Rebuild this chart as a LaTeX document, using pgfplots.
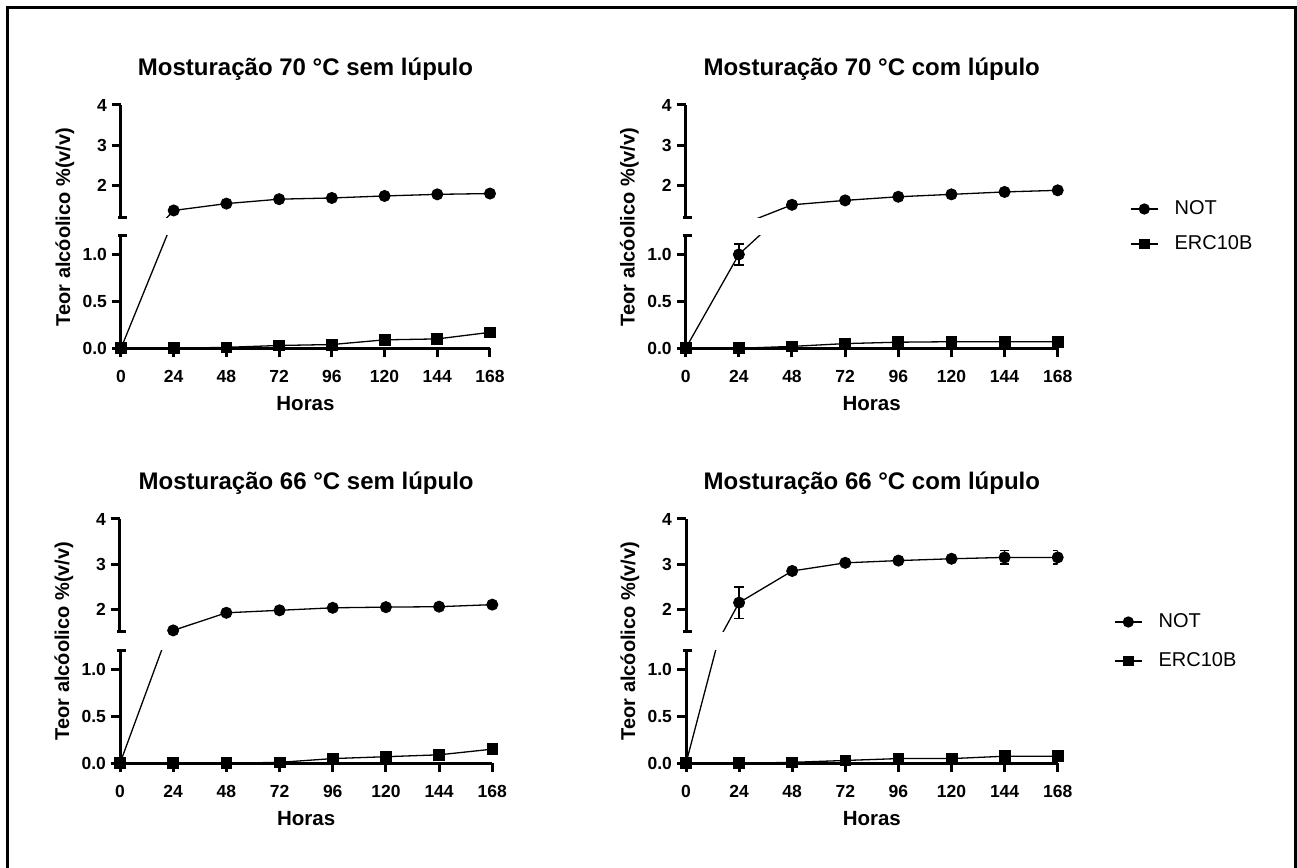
\documentclass[border=0pt]{standalone}
\usepackage{pgfplots}
\pgfplotsset{compat=1.18}
\usepackage{pgfplotstable}
\usepackage{fontspec}
\setmainfont{Liberation Sans}

\pgfplotstableread{
t not noterr erc
0 0 0 0
24 1.38 0 0
48 1.55 0 0.01
72 1.66 0 0.03
96 1.69 0 0.04
120 1.74 0 0.09
144 1.78 0 0.10
168 1.80 0 0.17
}\tA
\pgfplotstableread{
t not noterr erc
0 0 0 0
24 1.00 0.11 0
48 1.52 0 0.02
72 1.63 0 0.05
96 1.72 0 0.065
120 1.78 0 0.07
144 1.84 0 0.07
168 1.88 0 0.07
}\tB
\pgfplotstableread{
t not noterr erc
0 0 0 0
24 1.535 0 0
48 1.925 0 0
72 1.98 0 0.01
96 2.035 0 0.05
120 2.05 0 0.07
144 2.06 0 0.09
168 2.105 0 0.15
}\tC
\pgfplotstableread{
t not noterr erc
0 0 0 0
24 2.15 0.35 0
48 2.85 0 0.01
72 3.03 0 0.03
96 3.08 0 0.05
120 3.12 0 0.05
144 3.15 0.15 0.075
168 3.15 0.15 0.075
}\tD

\pgfplotsset{
  noarrows/.style={
    axis line style={line width=1.5pt, -},
    x axis line style={-}, y axis line style={-},
    every outer x axis line/.append style={-}, every outer y axis line/.append style={-},
    every inner x axis line/.append style={-}, every inner y axis line/.append style={-},
  },
  panel/.style={
    scale only axis, xmin=0, xmax=168,
    every tick/.style={line width=1.5pt, black},
    major tick length=4.5pt,
    tick align=outside,
    tick label style={font=\fontsize{8.75}{10}\selectfont\bfseries},
    yticklabel style={xshift=1pt},
    xticklabel style={yshift=-3pt},
    /pgf/number format/assume math mode=true,
  },
  lowseg/.style={panel, axis x line=bottom, axis y line=left, noarrows, tick align=outside,
    ymin=0, ymax=1.2, ytick={0,0.5,1}, yticklabels={0.0,0.5,1.0},
    xtick={0,24,48,72,96,120,144,168}, xticklabels={0,24,48,72,96,120,144,168},
    xlabel={Horas},
    xlabel style={font=\fontsize{10.25}{12}\selectfont\bfseries, at={(axis description cs:0.5,0)}, anchor=base, yshift=-31pt},
  },
  highseg/.style={panel, axis x line=none, axis y line=left, noarrows, tick align=outside,
    ymax=4, ytick={2,3,4}, xtick=\empty,
    title style={font=\fontsize{12}{14}\selectfont\bfseries, at={(0.5,1)}, anchor=base, yshift=8.5pt},
  },
  dline/.style={black, line width=0.65pt, no markers},
  mnot/.style={black, only marks, mark=*, mark size=2.8pt,
    error bars/y dir=both, error bars/y explicit,
    error bars/error bar style={line width=0.8pt, black},
    error bars/error mark options={rotate=90, line width=0.8pt, black, mark size=2.4pt}},
  merc/.style={black, only marks, mark=square*, mark size=2.7pt},
  leg/.style={legend style={draw=none, fill=none, inner sep=0pt, outer sep=0pt,
      font=\fontsize{10}{12}\selectfont, row sep=#1,
      nodes={inner sep=0pt},
      /tikz/every odd column/.append style={column sep=8pt}},
    legend cell align=left,
    legend image code/.code={\draw[mark repeat=2, mark phase=2, ##1] plot coordinates {(0pt,0pt) (6.75pt,0pt) (13.5pt,0pt)};}},
}
\tikzset{ylab/.style={rotate=90, anchor=base, font=\fontsize{10}{12}\selectfont\bfseries}}

\newcommand{\lowplots}[2]{%
  \addplot[dline] table[x=t, y=not] {#1};
  \addplot[dline] table[x=t, y=erc] {#1};
  \addplot[mnot, restrict y to domain=0:1.2] table[x=t, y=not, y error=noterr] {#1};
  \addplot[merc] table[x=t, y=erc] {#1};
}
\newcommand{\highplots}[2]{%
  \addplot[dline] table[x=t, y=not] {#1};
  \addplot[mnot, restrict y to domain=#2:4] table[x=t, y=not, y error=noterr] {#1};
}

\begin{document}
\begin{tikzpicture}
\useasboundingbox (0,0) rectangle (648.5pt,434pt);
\draw[line width=1.5pt] (3.75pt,0pt) -- (3.75pt,430.25pt) -- (647.9pt,430.25pt) -- (647.9pt,0pt);

% Panel 1
\begin{axis}[lowseg, name=p1b, at={(60.5pt,259.85pt)}, anchor=south west, width=184.5pt, height=56.3pt]
\lowplots{\tA}{1.2}
\end{axis}
\begin{axis}[highseg, name=p1t, at={(60.5pt,325.15pt)}, anchor=south west, width=184.5pt, height=56.35pt, ymin=1.2,
  title={Mosturação 70 °C sem lúpulo}]
\highplots{\tA}{1.2}
\end{axis}
\node[ylab] at (35pt,320.5pt) {Teor alcóolico \%(v/v)};

% Panel 2
\begin{axis}[lowseg, leg=9pt, name=p2b, at={(342.85pt,259.85pt)}, anchor=south west, width=186pt, height=56.3pt,
  legend style={at={(1.1944,1.0817)}, anchor=west}]
\addlegendimage{black, line width=0.8pt, mark=*, mark size=2.4pt}
\addlegendentry{NOT}
\addlegendimage{black, line width=0.8pt, mark=square*, mark size=2.3pt}
\addlegendentry{ERC10B}
\lowplots{\tB}{1.2}
\end{axis}
\begin{axis}[highseg, name=p2t, at={(342.85pt,325.15pt)}, anchor=south west, width=186pt, height=56.35pt, ymin=1.2,
  title={Mosturação 70 °C com lúpulo}]
\highplots{\tB}{1.2}
\end{axis}
\node[ylab] at (317.35pt,320.5pt) {Teor alcóolico \%(v/v)};

% Panel 3
\begin{axis}[lowseg, name=p3b, at={(60pt,52.35pt)}, anchor=south west, width=186.15pt, height=56.5pt]
\lowplots{\tC}{1.5}
\end{axis}
\begin{axis}[highseg, name=p3t, at={(60pt,118pt)}, anchor=south west, width=186.15pt, height=56.5pt, ymin=1.5,
  title={Mosturação 66 °C sem lúpulo}]
\highplots{\tC}{1.5}
\end{axis}
\node[ylab] at (34.5pt,113.5pt) {Teor alcóolico \%(v/v)};

% Panel 4
\begin{axis}[lowseg, leg=11pt, name=p4b, at={(343pt,52.35pt)}, anchor=south west, width=185.85pt, height=56.5pt,
  legend style={at={(1.1515,1.078)}, anchor=west}]
\addlegendimage{black, line width=0.8pt, mark=*, mark size=2.4pt}
\addlegendentry{NOT}
\addlegendimage{black, line width=0.8pt, mark=square*, mark size=2.3pt}
\addlegendentry{ERC10B}
\lowplots{\tD}{1.5}
\end{axis}
\begin{axis}[highseg, name=p4t, at={(343pt,118pt)}, anchor=south west, width=185.85pt, height=56.5pt, ymin=1.5,
  title={Mosturação 66 °C com lúpulo}]
\highplots{\tD}{1.5}
\end{axis}
\node[ylab] at (317.5pt,113.5pt) {Teor alcóolico \%(v/v)};

% break caps
\foreach \p in {p1,p2,p3,p4}{
  \draw[line width=1.5pt] ([xshift=-1.4pt]\p b.north west) -- ([xshift=3.2pt]\p b.north west);
  \draw[line width=1.5pt] ([xshift=-1.4pt]\p t.south west) -- ([xshift=3.2pt]\p t.south west);
}
\end{tikzpicture}
\end{document}
